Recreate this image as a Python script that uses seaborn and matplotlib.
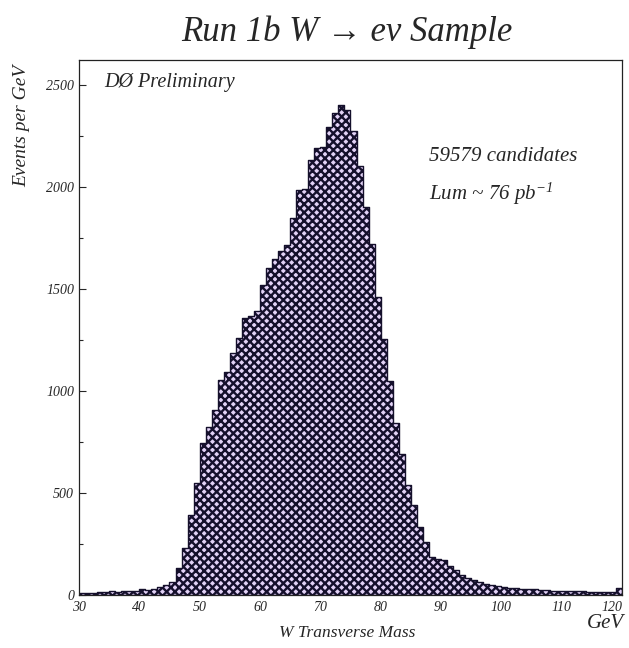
import numpy as np
import pandas as pd
import matplotlib
matplotlib.use("Agg")
import matplotlib.pyplot as plt
import seaborn as sns
from matplotlib.ticker import MultipleLocator

# ---- data (events per 1 GeV bin, 30..120 GeV) ----
bin_lo = list(range(30, 120))
counts = [
    10, 12, 12, 14, 15, 18, 16, 18, 20, 22,          # 30-39
    28, 26, 30, 38, 50, 65, 130, 230, 390, 550,      # 40-49
    745, 825, 905, 1055, 1090, 1185, 1260, 1355, 1365, 1390,   # 50-59
    1520, 1600, 1645, 1685, 1715, 1845, 1985, 1990, 2130, 2190,  # 60-69
    2195, 2290, 2360, 2400, 2375, 2270, 2100, 1900, 1720, 1460,  # 70-79
    1255, 1050, 840, 690, 540, 440, 335, 260, 185, 175,          # 80-89
    170, 140, 120, 100, 85, 75, 65, 55, 50, 42,                  # 90-99
    38, 35, 32, 30, 30, 28, 25, 25, 22, 22,                      # 100-109
    20, 20, 18, 18, 16, 16, 15, 15, 16, 35,                      # 110-119
]
x_ticks = [30, 40, 50, 60, 70, 80, 90, 100, 110, 120]
y_ticks = [0, 500, 1000, 1500, 2000, 2500]
title = "Run 1b W \u2192 e\u03bd Sample"
xlabel = "W Transverse Mass"
ylabel = "Events per GeV"
note1 = "59579 candidates"
note2 = r"Lum ~ 76 pb$^{-1}$"
corner = "D\u00d8 Preliminary"

df = pd.DataFrame({"mass": np.array(bin_lo) + 0.5, "n": counts})

sns.set_style("ticks")
plt.rcParams["font.family"] = ["Liberation Serif", "DejaVu Serif"]
plt.rcParams["mathtext.fontset"] = "custom"
plt.rcParams["mathtext.it"] = "Liberation Serif:italic"
plt.rcParams["mathtext.rm"] = "Liberation Serif:italic"
plt.rcParams["hatch.color"] = "#15102c"
plt.rcParams["hatch.linewidth"] = 1.7

fig = plt.figure(figsize=(6.29, 6.48), dpi=100)
ax = fig.add_axes([79 / 629, 1 - 595 / 648, (622 - 79) / 629, (595 - 60) / 648])

sns.histplot(data=df, x="mass", weights="n", binwidth=1, binrange=(30, 120),
             element="step", fill=True, ax=ax,
             facecolor="#e2d2f6", edgecolor="#15102c", linewidth=1.0,
             hatch="xxxx", alpha=1.0)

ax.set_xlim(30, 120)
ax.set_ylim(0, 2620)
ax.set_xticks(x_ticks)
ax.set_yticks(y_ticks)
ax.yaxis.set_minor_locator(MultipleLocator(250))
ax.tick_params(axis="both", which="both", direction="in", top=False, right=False)
ax.tick_params(axis="y", which="major", length=5, width=0.8)
ax.tick_params(axis="y", which="minor", length=3, width=0.8)
ax.tick_params(axis="x", which="major", length=0, pad=4)
for lab in ax.get_xticklabels() + ax.get_yticklabels():
    lab.set_fontstyle("italic")
    lab.set_fontsize(10)
xl = ax.get_xticklabels()
xl[-1].set_horizontalalignment("right")
xl[-1].set_x(120.6)
for s in ax.spines.values():
    s.set_visible(True)
    s.set_linewidth(0.9)
    s.set_color("#222222")

ax.set_xlabel("")
ax.set_ylabel("")
fig.text(347 / 629, 1 - 32 / 648, title, ha="center", va="center",
         fontsize=25, style="italic")
fig.text(22 / 629, 1 - 126 / 648, ylabel, rotation=90, ha="center",
         va="center", fontsize=14, style="italic")
fig.text(347 / 629, 1 - 633 / 648, xlabel, ha="center", va="center",
         fontsize=12.5, style="italic")
fig.text(605 / 629, 1 - 624 / 648, "GeV", ha="center", va="center",
         fontsize=15, style="italic")
ax.text(0.046, 0.975, corner, transform=ax.transAxes, ha="left", va="top",
        fontsize=14.5, style="italic")
ax.text(0.645, 0.82, note1, transform=ax.transAxes, ha="left", va="center",
        fontsize=15, style="italic")
ax.text(0.645, 0.75, note2, transform=ax.transAxes, ha="left", va="center",
        fontsize=15, style="italic")

fig.savefig("out.png", dpi=100)
